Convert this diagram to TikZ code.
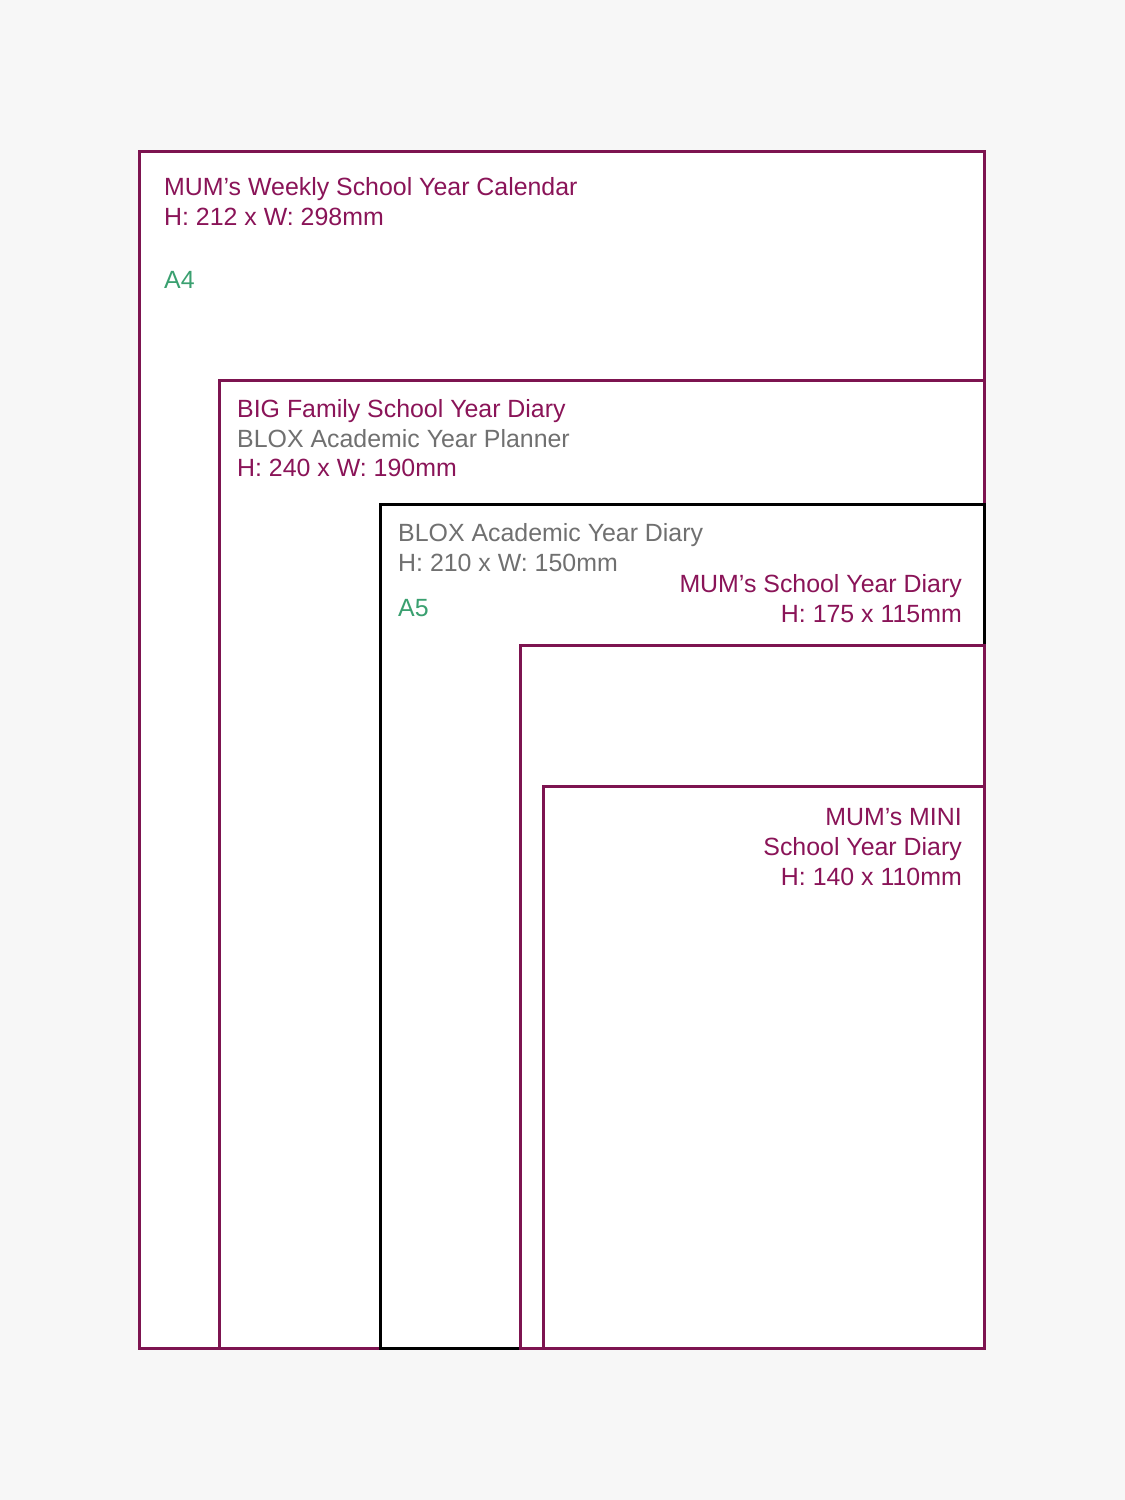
\documentclass[tikz,border=0pt]{standalone}
\usepackage{fontspec}
\setmainfont{Liberation Sans}
\usetikzlibrary{backgrounds}
\definecolor{mumpurple}{RGB}{138,20,88}
\definecolor{frame}{RGB}{125,20,80}
\definecolor{bloxgrey}{RGB}{112,112,112}
\definecolor{sizegreen}{RGB}{58,160,112}
\definecolor{paper}{RGB}{247,247,247}

\begin{document}
\begin{tikzpicture}[x=1pt, y=-1pt, background rectangle/.style={fill=paper}, show background rectangle]
\tikzset{sheet/.style={draw=#1,fill=white,line width=3pt},
  label/.style={inner sep=0,font=\fontsize{24.9}{30}\selectfont,text=#1}}

% page size
\useasboundingbox (0,0) rectangle (1125,1500);

% sheets - from the biggest to the smallest
\coordinate (a4) at (139,151);
\coordinate (big) at (219,380);
\coordinate (a5) at (380,504);
\coordinate (mum) at (520,645);
\coordinate (mini) at (543,786);
\coordinate (corner) at (984,1348);

\draw[sheet=frame] (a4) rectangle (corner);
\draw[sheet=frame] (big) rectangle (corner);
\draw[sheet=black] (a5) rectangle (corner);
\draw[sheet=frame] (mum) rectangle (corner);
\draw[sheet=frame] (mini) rectangle (corner);

% texts - multi line nodes sit on their last line
\node[label=mumpurple,anchor=base west,align=left] (weekly) at (164,225) {MUM’s Weekly School Year Calendar\\H: 212 x W: 298mm};
\node[label=sizegreen,anchor=base west] (a4name) at (164,288) {A4};

\node[label=mumpurple,anchor=base west] (bigfamily) at (237,417) {BIG Family School Year Diary};
\node[label=bloxgrey,anchor=base west] (planner) at (237,447) {BLOX Academic Year Planner};
\node[label=mumpurple,anchor=base west] (bigsize) at (237,476) {H: 240 x W: 190mm};

\node[label=bloxgrey,anchor=base west,align=left] (bloxdiary) at (398,571) {BLOX Academic Year Diary\\H: 210 x W: 150mm};
\node[label=sizegreen,anchor=base west] (a5name) at (398,616) {A5};

\node[label=mumpurple,anchor=base east,align=right] (mumdiary) at (962,622) {MUM’s School Year Diary\\H: 175 x 115mm};

\node[label=mumpurple,anchor=base east,align=right] (minidiary) at (962,885) {MUM’s MINI\\School Year Diary\\H: 140 x 110mm};

\end{tikzpicture}
\end{document}
